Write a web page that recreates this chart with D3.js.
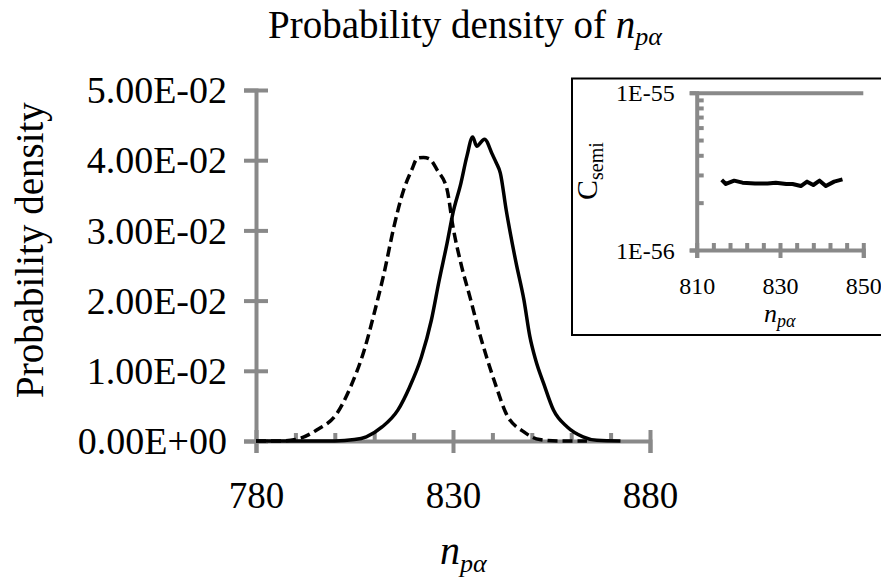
<!DOCTYPE html>
<html>
<head>
<meta charset="utf-8">
<script src="https://cdn.jsdelivr.net/npm/d3@7"></script>
<style>
  body { margin: 0; background: #fff; }
  svg { display: block; }
  text { font-family: "Liberation Serif", "Times New Roman", serif; fill: #000; }
</style>
</head>
<body>
<div id="chart"></div>
<script>
// main chart: probability density vs n_pa
const nSolid = [780, 800, 805, 808, 812, 816, 819, 822, 824.5, 826.5, 828.5, 830, 832, 833.5, 835, 836, 838, 840, 841, 842, 843.5, 846, 848, 849.5, 851, 853, 855.5, 859, 863, 866.5, 872.5];
const pSolid = [0, 0, 0.0002, 0.0006, 0.002, 0.0044, 0.0077, 0.012, 0.0172, 0.0229, 0.0282, 0.0325, 0.0367, 0.0405, 0.0433, 0.042, 0.043, 0.0408, 0.0396, 0.0382, 0.0329, 0.0254, 0.0201, 0.0149, 0.0115, 0.0082, 0.0044, 0.002, 0.0006, 0.0001, 0];

const nDash = [780, 786, 790, 795.5, 800.5, 804, 807.5, 810, 812.5, 815, 817.5, 819.5, 821, 822.5, 824, 826, 828.5, 830, 832, 834.5, 836.5, 838.5, 841, 843.5, 848, 852, 857, 864];
const pDash = [0, 0, 0.0002, 0.0016, 0.0039, 0.0077, 0.013, 0.0182, 0.0239, 0.0305, 0.0358, 0.0386, 0.0403, 0.0404, 0.0402, 0.0386, 0.0358, 0.0305, 0.0253, 0.0201, 0.0158, 0.012, 0.0077, 0.0039, 0.0013, 0.0002, 0, 0];

const xTicks = [780, 830, 880];
const xMinor = [790, 800, 810, 820, 840, 850, 860, 870];
const yTicks = [0, 0.01, 0.02, 0.03, 0.04, 0.05];

// inset: C_semi vs n_pa
const nSemi = [816, 817, 819, 821, 824, 827, 829, 831.5, 833, 835, 836.5, 838, 839.5, 841, 843, 845];
const cSemi = [2.79e-56, 2.63e-56, 2.76e-56, 2.68e-56, 2.65e-56, 2.65e-56, 2.68e-56, 2.63e-56, 2.63e-56, 2.55e-56, 2.72e-56, 2.59e-56, 2.76e-56, 2.55e-56, 2.72e-56, 2.81e-56];
const insetXTicks = [810, 830, 850];
const insetXMinor = [814, 818, 822, 826, 834, 838, 842, 846];
const insetYTicks = [1e-56, 1e-55];
const insetYMinor = [2e-56, 3e-56, 4e-56, 5e-56, 6e-56, 7e-56, 8e-56, 9e-56];

const W = 881, H = 578;
const axisColor = "#898989";

const svg = d3.select("#chart").append("svg")
  .attr("width", W).attr("height", H);

const x = d3.scaleLinear().domain([780, 880]).range([256, 650]);
const y = d3.scaleLinear().domain([0, 0.05]).range([441, 90]);

function styleAxis(g) {
  g.select(".domain").attr("stroke", axisColor).attr("stroke-width", 4);
  g.selectAll(".tick line").attr("stroke", axisColor).attr("stroke-width", 4);
}

// minor x ticks (inside only)
svg.append("g")
  .attr("transform", "translate(0,441)")
  .call(d3.axisTop(x).tickValues(xMinor).tickSize(8).tickFormat(""))
  .call(styleAxis)
  .call(g => g.select(".domain").remove());

// x axis
const gx = svg.append("g")
  .attr("transform", "translate(0,441)")
  .call(d3.axisBottom(x).tickValues(xTicks).tickSizeOuter(0).tickSize(12).tickPadding(0))
  .call(styleAxis);
gx.selectAll(".tick line").attr("y1", -11).attr("y2", 12);
gx.selectAll(".tick text")
  .attr("y", 67).attr("dy", 0)
  .attr("font-size", 37).attr("font-family", "Liberation Serif");

// y axis
const gy = svg.append("g")
  .attr("transform", "translate(256,0)")
  .call(d3.axisLeft(y).tickValues(yTicks).tickSizeOuter(0).tickSize(12)
    .tickFormat(d => d3.format(".2e")(d).replace("e", "E").replace(/E([+-])(\d)$/, "E$10$2").toUpperCase()))
  .call(styleAxis);
gy.selectAll(".tick line").attr("x1", 12).attr("x2", -12);
gy.selectAll(".tick text")
  .attr("x", -29).attr("dy", "0.335em")
  .attr("font-size", 38).attr("font-family", "Liberation Serif");

// curves
const line = d3.line()
  .x(d => x(d[0]))
  .y(d => y(d[1]))
  .curve(d3.curveMonotoneX);

svg.append("path")
  .datum(nDash.map((n, i) => [n, pDash[i]]))
  .attr("fill", "none").attr("stroke", "#000")
  .attr("stroke-width", 3.5).attr("stroke-dasharray", "10,5")
  .attr("d", line);

svg.append("path")
  .datum(nSolid.map((n, i) => [n, pSolid[i]]))
  .attr("fill", "none").attr("stroke", "#000")
  .attr("stroke-width", 3.5).attr("stroke-linejoin", "round")
  .attr("d", line);

// title
const title = svg.append("text")
  .attr("x", 268).attr("y", 38)
  .attr("font-size", 39);
title.append("tspan").text("Probability density of ");
title.append("tspan").attr("font-style", "italic").text("n");
title.append("tspan").attr("font-style", "italic").attr("font-size", 26).attr("dy", 7).text("pα");

// y label
svg.append("text")
  .attr("transform", "translate(43,250) rotate(-90)")
  .attr("text-anchor", "middle")
  .attr("font-size", 39)
  .text("Probability density");

// x label
const xl = svg.append("text")
  .attr("x", 440).attr("y", 564)
  .attr("font-size", 40);
xl.append("tspan").attr("font-style", "italic").text("n");
xl.append("tspan").attr("font-style", "italic").attr("font-size", 26).attr("dy", 8).text("pα");

// ---------- inset ----------
svg.append("rect")
  .attr("x", 572).attr("y", 78.5)
  .attr("width", 320).attr("height", 256.5)
  .attr("fill", "#fff").attr("stroke", "#000").attr("stroke-width", 2);

const ix = d3.scaleLinear().domain([810, 850]).range([696.7, 863.3]);
const iy = d3.scaleLog().domain([1e-56, 1e-55]).range([250, 92.7]);

// gridline at top
svg.append("g")
  .attr("transform", "translate(696.7,0)")
  .call(d3.axisRight(iy).tickValues([1e-55]).tickSize(ix(850) - ix(810)).tickFormat(""))
  .call(styleAxis)
  .call(g => g.select(".domain").remove());

// inset minor ticks
svg.append("g")
  .attr("transform", "translate(696.7,0)")
  .call(d3.axisRight(iy).tickValues(insetYMinor).tickSize(7).tickFormat(""))
  .call(styleAxis)
  .call(g => g.select(".domain").remove());
svg.append("g")
  .attr("transform", "translate(0,250)")
  .call(d3.axisTop(ix).tickValues(insetXMinor).tickSize(7).tickFormat(""))
  .call(styleAxis)
  .call(g => g.select(".domain").remove());

const igx = svg.append("g")
  .attr("transform", "translate(0,250)")
  .call(d3.axisBottom(ix).tickValues(insetXTicks).tickSizeOuter(0).tickSize(8).tickPadding(0))
  .call(styleAxis);
igx.selectAll(".tick line").attr("y1", -7).attr("y2", 8);
igx.selectAll(".tick text")
  .attr("y", 44).attr("dy", 0)
  .attr("font-size", 24).attr("font-family", "Liberation Serif");

const igy = svg.append("g")
  .attr("transform", "translate(696.7,0)")
  .call(d3.axisLeft(iy).tickValues(insetYTicks).tickSizeOuter(0).tickSize(7)
    .tickFormat(d => "1E" + Math.round(Math.log10(d))))
  .call(styleAxis);
igy.selectAll(".tick text")
  .attr("x", -22).attr("dy", "0.34em")
  .attr("font-size", 24).attr("font-family", "Liberation Serif");

svg.append("path")
  .datum(nSemi.map((n, i) => [n, cSemi[i]]))
  .attr("fill", "none").attr("stroke", "#000")
  .attr("stroke-width", 4).attr("stroke-linejoin", "round")
  .attr("d", d3.line().x(d => ix(d[0])).y(d => iy(d[1])));

// inset y label C_semi
const cl = svg.append("text")
  .attr("transform", "translate(597,200) rotate(-90)")
  .attr("font-size", 30);
cl.append("tspan").text("C");
cl.append("tspan").attr("font-size", 20).attr("dy", 6).text("semi");

// inset x label
const ixl = svg.append("text")
  .attr("x", 764).attr("y", 322)
  .attr("font-size", 26);
ixl.append("tspan").attr("font-style", "italic").text("n");
ixl.append("tspan").attr("font-style", "italic").attr("font-size", 18).attr("dy", 5).text("pα");
</script>
</body>
</html>
